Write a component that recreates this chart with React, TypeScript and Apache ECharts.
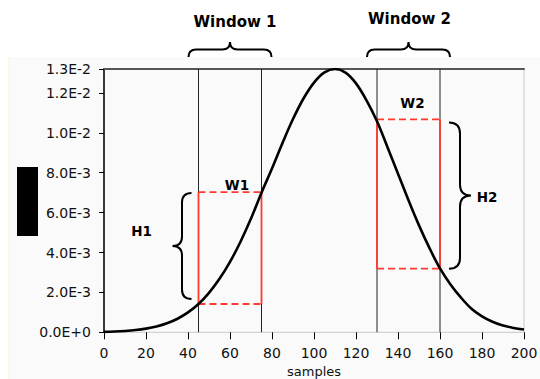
import React, { useEffect, useRef } from 'react';
import * as echarts from 'echarts';

// sample index (x) and amplitude (y)
const samples = [0, 5, 10, 15, 20, 25, 30, 35, 40, 45, 50, 55, 60, 65, 70, 75, 80, 85, 90, 95, 100,
  105, 110, 115, 120, 125, 130, 135, 140, 145, 150, 155, 160, 165, 170, 175, 180, 185, 190, 195, 200];
const amplitude = [2.2e-5, 3.9e-5, 6.8e-5, 1.13e-4, 1.85e-4, 2.93e-4, 4.52e-4, 6.8e-4, 9.97e-4, 1.42e-3,
  1.98e-3, 2.68e-3, 3.53e-3, 4.54e-3, 5.7e-3, 7.0e-3, 8.21e-3, 9.49e-3, 1.069e-2, 1.172e-2, 1.252e-2,
  1.303e-2, 1.32e-2, 1.302e-2, 1.248e-2, 1.163e-2, 1.058e-2, 9.28e-3, 7.95e-3, 6.62e-3, 5.36e-3,
  4.22e-3, 3.2e-3, 2.4e-3, 1.74e-3, 1.18e-3, 8.0e-4, 5.3e-4, 3.4e-4, 2.2e-4, 1.4e-4];

const Y_MAX = 0.0132;
const xTickStep = 20;
const yTickStep = 0.002;

const windowNames = ['Window 1', 'Window 2'];
const windowStart = [45, 130];
const windowEnd = [75, 160];
const windowLow = [1.42e-3, 3.19e-3];
const windowHigh = [7.03e-3, 1.067e-2];
const widthLabels = ['W1', 'W2'];
const heightLabels = ['H1', 'H2'];

const FONT = 'DejaVu Sans';
const RED = '#ff3b2f';

echarts.graphic.registerShape(
  'braceH',
  echarts.graphic.extendShape({
    shape: { x1: 0, x2: 0, yEnd: 0, yCusp: 0 },
    buildPath(ctx: any, s: any) {
      const xm = (s.x1 + s.x2) / 2;
      const ym = (s.yEnd + s.yCusp) / 2;
      const r = Math.abs(s.yEnd - ym);
      ctx.moveTo(s.x1, s.yEnd);
      ctx.quadraticCurveTo(s.x1, ym, s.x1 + r, ym);
      ctx.lineTo(xm - r, ym);
      ctx.quadraticCurveTo(xm, ym, xm, s.yCusp);
      ctx.quadraticCurveTo(xm, ym, xm + r, ym);
      ctx.lineTo(s.x2 - r, ym);
      ctx.quadraticCurveTo(s.x2, ym, s.x2, s.yEnd);
    },
  } as any)
);

echarts.graphic.registerShape(
  'braceV',
  echarts.graphic.extendShape({
    shape: { y1: 0, y2: 0, xEnd: 0, xCusp: 0, yCusp: 0 },
    buildPath(ctx: any, s: any) {
      const xm = (s.xEnd + s.xCusp) / 2;
      const r = Math.abs(s.xEnd - xm);
      ctx.moveTo(s.xEnd, s.y1);
      ctx.quadraticCurveTo(xm, s.y1, xm, s.y1 + r);
      ctx.lineTo(xm, s.yCusp - r);
      ctx.quadraticCurveTo(xm, s.yCusp, s.xCusp, s.yCusp);
      ctx.quadraticCurveTo(xm, s.yCusp, xm, s.yCusp + r);
      ctx.lineTo(xm, s.y2 - r);
      ctx.quadraticCurveTo(xm, s.y2, s.xEnd, s.y2);
    },
  } as any)
);

function sci(v: number): string {
  if (v === 0) return '0.0E+0';
  let e = Math.floor(Math.log10(Math.abs(v)) + 1e-9);
  let m = v / Math.pow(10, e);
  let s = m.toFixed(1);
  if (s === '10.0') {
    e += 1;
    s = (m / 10).toFixed(1);
  }
  return s + 'E' + (e < 0 ? '-' : '+') + Math.abs(e);
}

export default function App() {
  const ref = useRef<HTMLDivElement>(null);

  useEffect(() => {
    document.body.style.margin = '0';
    if (!ref.current) return;
    const chart = echarts.init(ref.current, null, { renderer: 'svg' });

    const series: any[] = [];
    windowStart.forEach((xs, i) => {
      [xs, windowEnd[i]].forEach((x) =>
        series.push({
          type: 'line',
          data: [[x, 0], [x, Y_MAX]],
          symbol: 'none',
          silent: true,
          lineStyle: { color: '#222', width: 1 },
          z: 1,
        })
      );
    });
    windowStart.forEach((xs, i) => {
      const xe = windowEnd[i];
      const lo = windowLow[i];
      const hi = windowHigh[i];
      [xs, xe].forEach((x) =>
        series.push({
          type: 'line',
          data: [[x, lo], [x, hi]],
          symbol: 'none',
          silent: true,
          lineStyle: { color: RED, width: 1.8 },
          z: 2,
        })
      );
      [lo, hi].forEach((y) =>
        series.push({
          type: 'line',
          data: [[xs, y], [xe, y]],
          symbol: 'none',
          silent: true,
          lineStyle: { color: RED, width: 1.8, type: [7, 4] },
          z: 2,
        })
      );
    });
    series.push({
      type: 'line',
      data: samples.map((x, i) => [x, amplitude[i]]),
      smooth: 0.35,
      symbol: 'none',
      silent: true,
      lineStyle: { color: '#000', width: 2.6 },
      z: 3,
    });

    chart.setOption({
      animation: false,
      grid: {
        left: 104,
        right: 16,
        top: 69,
        bottom: 46.7,
        outerBoundsMode: 'none',
        containLabel: false,
        show: true,
        backgroundColor: '#fafafa',
        borderColor: '#c8c8c8',
        borderWidth: 1,
      },
      xAxis: [
        {
          type: 'value',
          min: 0,
          max: 200,
          interval: xTickStep,
          offset: 3,
          axisLine: { show: false },
          axisTick: { show: true, length: 7, lineStyle: { color: '#000', width: 1 } },
          axisLabel: { margin: 11, fontFamily: FONT, fontSize: 14, color: '#111' },
          splitLine: { show: false },
          name: 'samples',
          nameLocation: 'middle',
          nameGap: 28,
          nameTextStyle: { fontFamily: FONT, fontSize: 13, color: '#111', verticalAlign: 'top' },
        },
        {
          type: 'value',
          position: 'top',
          min: 0,
          max: 200,
          axisLine: { show: true, lineStyle: { color: '#555', width: 2 } },
          axisTick: { show: false },
          axisLabel: { show: false },
          splitLine: { show: false },
        },
      ],
      yAxis: {
        type: 'value',
        min: 0,
        max: Y_MAX,
        interval: yTickStep,
        axisLine: { show: true, lineStyle: { color: '#000', width: 1.5 } },
        axisTick: { show: true, length: 5, lineStyle: { color: '#000', width: 1 } },
        axisLabel: {
          margin: 13,
          formatter: sci,
          fontFamily: FONT,
          fontSize: 14,
          color: '#111',
          showMaxLabel: true,
        },
        splitLine: { show: false },
      },
      series,
    });

    const px = (x: number) => chart.convertToPixel({ xAxisIndex: 0 }, x) as number;
    const py = (y: number) => chart.convertToPixel({ yAxisIndex: 0 }, y) as number;

    const graphic: any[] = [];
    windowStart.forEach((xs, i) => {
      const x1 = px(xs);
      const x2 = px(windowEnd[i]);
      const cx = (x1 + x2) / 2;
      graphic.push({
        type: 'braceH',
        shape: { x1: x1 - 10, x2: x2 + 10, yEnd: 57, yCusp: 42 },
        style: { stroke: '#000', lineWidth: 2, fill: 'none' },
        silent: true,
      });
      graphic.push({
        type: 'text',
        x: cx + (i === 0 ? 5 : 1),
        y: i === 0 ? 22 : 19,
        style: {
          text: windowNames[i],
          fontFamily: FONT,
          fontSize: 15,
          fontWeight: 'bold',
          fill: '#000',
          align: 'center',
          verticalAlign: 'middle',
        },
        silent: true,
      });
      const yHi = py(windowHigh[i]);
      const yLo = py(windowLow[i]);
      graphic.push({
        type: 'text',
        x: cx + (i === 0 ? 7 : 4),
        y: yHi + (i === 0 ? -7 : -16),
        style: {
          text: widthLabels[i],
          fontFamily: FONT,
          fontSize: 13.5,
          fontWeight: 'bold',
          fill: '#000',
          align: 'center',
          verticalAlign: 'middle',
        },
        silent: true,
      });
      if (i === 0) {
        const y1 = yHi + 1;
        const y2 = yLo - 5;
        const yc = (y1 + y2) / 2;
        graphic.push({
          type: 'braceV',
          shape: { y1, y2, xEnd: x1 - 7, xCusp: x1 - 26, yCusp: yc },
          style: { stroke: '#000', lineWidth: 2, fill: 'none' },
          silent: true,
        });
        graphic.push({
          type: 'text',
          x: x1 - 57,
          y: yc - 15,
          style: {
            text: heightLabels[i],
            fontFamily: FONT,
            fontSize: 13.5,
            fontWeight: 'bold',
            fill: '#000',
            align: 'center',
            verticalAlign: 'middle',
          },
          silent: true,
        });
      } else {
        const y1 = yHi + 3;
        const y2 = yLo;
        const yc = (y1 + y2) / 2;
        graphic.push({
          type: 'braceV',
          shape: { y1, y2, xEnd: x2 + 9, xCusp: x2 + 31, yCusp: yc },
          style: { stroke: '#000', lineWidth: 2, fill: 'none' },
          silent: true,
        });
        graphic.push({
          type: 'text',
          x: x2 + 47,
          y: yc + 1,
          style: {
            text: heightLabels[i],
            fontFamily: FONT,
            fontSize: 13.5,
            fontWeight: 'bold',
            fill: '#000',
            align: 'center',
            verticalAlign: 'middle',
          },
          silent: true,
        });
      }
    });
    graphic.push({
      type: 'rect',
      shape: { x: 17, y: 167, width: 21, height: 69 },
      style: { fill: '#000' },
      silent: true,
    });

    chart.setOption({ graphic });

    return () => {
      chart.dispose();
    };
  }, []);

  return (
    <div style={{ position: 'relative', width: 540, height: 379, background: '#fff', overflow: 'hidden' }}>
      <div
        style={{
          position: 'absolute',
          left: 8,
          top: 57,
          width: 532,
          height: 322,
          background: '#fafafa',
          borderLeft: '2px solid #fbfbe2',
          boxSizing: 'border-box',
        }}
      />
      <div ref={ref} style={{ position: 'absolute', left: 0, top: 0, width: 540, height: 379 }} />
    </div>
  );
}
